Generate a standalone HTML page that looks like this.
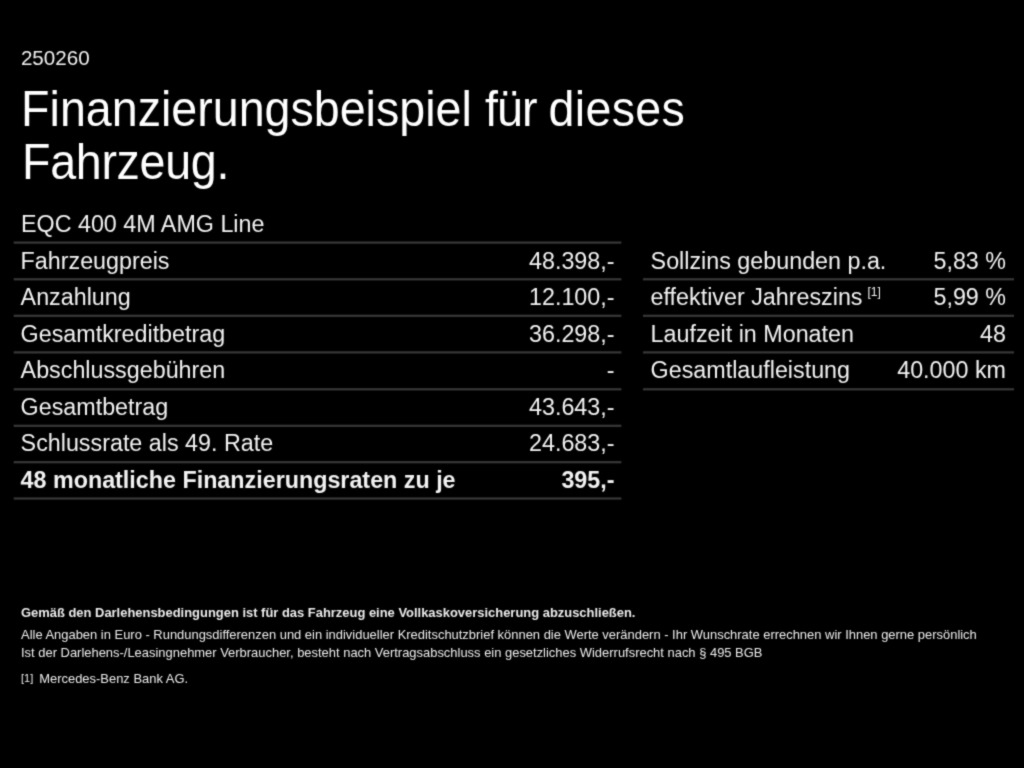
<!DOCTYPE html>
<html lang="de">
<head>
<meta charset="utf-8">
<title>Finanzierungsbeispiel</title>
<style>
html,body{margin:0;padding:0;background:#000;}
body{width:1024px;height:768px;overflow:hidden;position:relative;color:#fff;filter:url(#soft);
 font-family:"Liberation Sans",Arial,Helvetica,sans-serif;}
.t{position:absolute;white-space:nowrap;line-height:1;margin:0;font-weight:normal;}
.r{text-align:right;}
.b{font-weight:bold;}
svg.lines{position:absolute;left:0;top:0;}
.num{left:20.9px;top:47.5px;font-size:20.6px;color:#f0f0f0;}
h1{position:absolute;left:0;top:0;margin:0;font-size:46.6px;font-weight:normal;}
.h{font-size:46.6px;transform:scaleY(1.07);transform-origin:0 39.45px;}
.row{font-size:23.3px;color:#f2f2f2;}
.f{font-size:12.95px;left:21px;color:#ececec;}
sup{font-size:12px;vertical-align:baseline;position:relative;top:-9.5px;margin-left:5px;line-height:0;}
.fn{font-size:11px;position:relative;top:-1px;margin-right:6px;}
</style>
</head>
<body>
<svg width="0" height="0" style="position:absolute" aria-hidden="true"><defs><filter id="soft" x="0" y="0" width="100%" height="100%" color-interpolation-filters="sRGB"><feConvolveMatrix order="3" kernelMatrix="0.06 0.2 0.06 0.2 1 0.2 0.06 0.2 0.06" edgeMode="duplicate" preserveAlpha="false"/></filter></defs></svg>
<div class="t num">250260</div>
<h1><span class="t h" style="left:21.1px;top:86.8px">Finanzierungsbeispiel</span> <span class="t h" style="left:485px;top:86.8px;letter-spacing:-0.9px">für</span> <span class="t h" style="left:548.6px;top:86.8px;letter-spacing:0.3px">dieses</span> <span class="t h" style="left:22px;top:140px;letter-spacing:-0.3px">Fahrzeug.</span></h1>
<div class="t row" style="left:21px;top:213.4px">EQC 400 4M AMG Line</div>

<svg class="lines" width="1024" height="768" viewBox="0 0 1024 768">
<rect x="13.7" y="241.50" width="607.7" height="2.2" fill="#383838"/>
<rect x="13.7" y="278.20" width="607.7" height="2.2" fill="#383838"/>
<rect x="13.7" y="314.70" width="607.7" height="2.2" fill="#383838"/>
<rect x="13.7" y="351.30" width="607.7" height="2.2" fill="#383838"/>
<rect x="13.7" y="388.20" width="607.7" height="2.2" fill="#383838"/>
<rect x="13.7" y="424.70" width="607.7" height="2.2" fill="#383838"/>
<rect x="13.7" y="461.10" width="607.7" height="2.2" fill="#383838"/>
<rect x="13.7" y="497.40" width="607.7" height="2.2" fill="#383838"/>
<rect x="643" y="278.20" width="371" height="2.2" fill="#383838"/>
<rect x="643" y="314.70" width="371" height="2.2" fill="#383838"/>
<rect x="643" y="351.30" width="371" height="2.2" fill="#383838"/>
<rect x="643" y="388.20" width="371" height="2.2" fill="#383838"/>
</svg>
<div class="t row" style="left:20.6px;top:249.68px">Fahrzeugpreis</div>
<div class="t row r" style="right:409.5px;top:249.68px">48.398,-</div>
<div class="t row" style="left:20.6px;top:286.23px">Anzahlung</div>
<div class="t row r" style="right:409.5px;top:286.23px">12.100,-</div>
<div class="t row" style="left:20.6px;top:322.78px">Gesamtkreditbetrag</div>
<div class="t row r" style="right:409.5px;top:322.78px">36.298,-</div>
<div class="t row" style="left:20.6px;top:359.33px">Abschlussgebühren</div>
<div class="t row r" style="right:409.5px;top:359.33px">-</div>
<div class="t row" style="left:20.6px;top:395.88px">Gesamtbetrag</div>
<div class="t row r" style="right:409.5px;top:395.88px">43.643,-</div>
<div class="t row" style="left:20.6px;top:432.43px">Schlussrate als 49. Rate</div>
<div class="t row r" style="right:409.5px;top:432.43px">24.683,-</div>
<div class="t row b" style="left:20.6px;top:468.98px">48 monatliche Finanzierungsraten zu je</div>
<div class="t row r b" style="right:409.5px;top:468.98px">395,-</div>
<div class="t row" style="left:650.6px;top:249.68px">Sollzins gebunden p.a.</div>
<div class="t row r" style="right:18px;top:249.68px">5,83 %</div>
<div class="t row" style="left:650.6px;top:286.23px">effektiver Jahreszins<sup>[1]</sup></div>
<div class="t row r" style="right:18px;top:286.23px">5,99 %</div>
<div class="t row" style="left:650.6px;top:322.78px">Laufzeit in Monaten</div>
<div class="t row r" style="right:18px;top:322.78px">48</div>
<div class="t row" style="left:650.6px;top:359.33px">Gesamtlaufleistung</div>
<div class="t row r" style="right:18px;top:359.33px">40.000 km</div>

<div class="t f b" style="top:607px">Gemäß den Darlehensbedingungen ist für das Fahrzeug eine Vollkaskoversicherung abzuschließen.</div>
<div class="t f" style="top:628.5px">Alle Angaben in Euro - Rundungsdifferenzen und ein individueller Kreditschutzbrief können die Werte verändern - Ihr Wunschrate errechnen wir Ihnen gerne persönlich</div>
<div class="t f" style="top:647px">Ist der Darlehens-/Leasingnehmer Verbraucher, besteht nach Vertragsabschluss ein gesetzliches Widerrufsrecht nach § 495 BGB</div>
<div class="t f" style="top:672.5px"><span class="fn">[1]</span>Mercedes-Benz Bank AG.</div>
</body>
</html>
